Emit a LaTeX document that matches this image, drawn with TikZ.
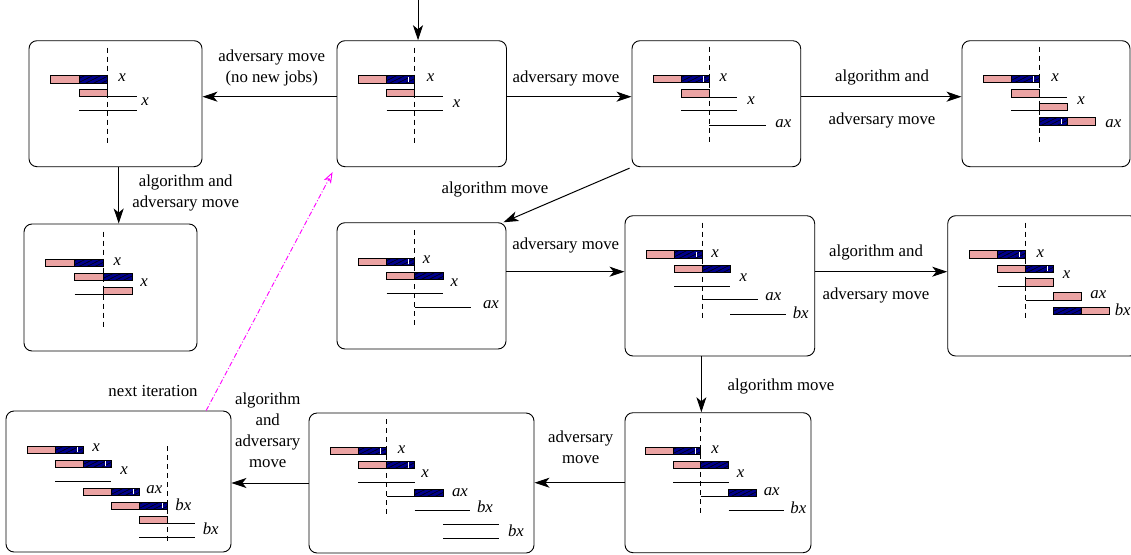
\documentclass[tikz,border=0pt]{standalone}
\usepackage{fontspec}
\setmainfont{Liberation Serif}
\usetikzlibrary{arrows.meta,patterns}
\definecolor{barpink}{RGB}{235,163,163}
\definecolor{barnavy}{RGB}{0,0,140}
\definecolor{itermag}{RGB}{255,0,255}
\pgfdeclarepatternformonly{bhatch}{\pgfqpoint{-1pt}{-1pt}}{\pgfqpoint{9pt}{5pt}}{\pgfqpoint{8pt}{4pt}}{%
  \pgfsetlinewidth{0.6pt}%
  \pgfpathmoveto{\pgfqpoint{-0.5pt}{-0.25pt}}%
  \pgfpathlineto{\pgfqpoint{8.5pt}{4.25pt}}%
  \pgfusepath{stroke}}
\newcounter{labc}
\newcommand\pkbar[3]{\filldraw[fill=barpink,draw=black,line width=0.8pt] (#1,#3) rectangle (#2,#3-7.3);}
\newcommand\nvbar[3]{\fill[barnavy] (#1,#3) rectangle (#2,#3-7.3);
  \fill[pattern=bhatch,pattern color=black] (#1,#3) rectangle (#2,#3-7.3);
  \draw[line width=0.8pt] (#1,#3) rectangle (#2,#3-7.3);}
\newcommand\wtick[2]{\draw[white,line width=0.9pt] (#1,#2-1) -- (#1,#2-6.3);}
\newcommand\hln[3]{\draw[line width=0.8pt] (#1,#3) -- (#2,#3);}
\newcommand\dln[3]{\draw[dline] (#1,#2) -- (#1,#3);}
\newcommand\lab[3]{\stepcounter{labc}\node[lab] (l\arabic{labc}) at (#1,#2) {\textit{#3}};}
\tikzset{
  stbox/.style={draw=black,line width=0.9pt,rounded corners=8pt,inner sep=0pt},
  dline/.style={line width=0.9pt,dash pattern=on 5pt off 4pt},
  lab/.style={inner sep=0pt,font=\fontsize{16.8}{21}\selectfont},
  tlab/.style={inner sep=0pt,align=center,font=\fontsize{16.8}{21}\selectfont},
  arr/.style={line width=1pt,-{Stealth[length=15pt,width=10pt,inset=4pt]}},
  iter/.style={itermag,line width=0.9pt,dash pattern=on 5pt off 2pt on 1pt off 2pt,
    -{Stealth[open,length=11pt,width=8pt,inset=3pt]}},
}
\begin{document}
\begin{tikzpicture}[x=1pt,y=-1pt]
\useasboundingbox (0,0) rectangle (1131,554);
% boxes
\node[stbox,minimum width=173pt,minimum height=126pt] (A) at (115.5,103.7) {};
\node[stbox,minimum width=169.5pt,minimum height=126pt] (B) at (421.75,103.7) {};
\node[stbox,minimum width=168.7pt,minimum height=126pt] (C) at (716.35,103.7) {};
\node[stbox,minimum width=168pt,minimum height=126pt] (D) at (1046,103.7) {};
\node[stbox,minimum width=173pt,minimum height=127pt] (E) at (110.5,287.5) {};
\node[stbox,minimum width=169pt,minimum height=126.3pt] (F) at (421.5,285.85) {};
\node[stbox,minimum width=189.7pt,minimum height=140.3pt] (G) at (719.85,285.85) {};
\node[stbox,minimum width=190pt,minimum height=140.3pt] (H) at (1042.7,285.85) {};
\node[stbox,minimum width=186pt,minimum height=140pt] (I) at (718,482.7) {};
\node[stbox,minimum width=225pt,minimum height=140pt] (J) at (421.5,483) {};
\node[stbox,minimum width=225pt,minimum height=141pt] (K) at (118.5,481.5) {};

% Box A
\dln{107.7}{47.7}{142.7}
\pkbar{50}{79}{83} \nvbar{79}{107.7}{83}
\lab{122}{77.7}{x}
\pkbar{79}{107.7}{96.7} \hln{107.7}{136.7}{96.7}
\lab{145}{101.7}{x}
\hln{79}{136.7}{110}
% Box B
\dln{414.7}{47.7}{142.7}
\pkbar{358.3}{386.7}{83} \nvbar{386.7}{414.7}{83} \wtick{408.3}{83}
\lab{430.7}{77.7}{x}
\pkbar{386.7}{414.7}{96.7} \hln{414.7}{442.7}{96.7}
\lab{456.7}{103.3}{x}
\hln{386.7}{442.7}{110}
% Box C
\dln{709.3}{46.7}{142.7}
\pkbar{653.3}{681}{82.7} \nvbar{681}{709.3}{82.7} \wtick{703.3}{82.7}
\lab{723.3}{77.3}{x}
\pkbar{681}{709.3}{97} \hln{709.3}{737.3}{97}
\lab{751}{101}{x}
\hln{681}{737.3}{110.3}
\hln{709.3}{765.7}{125}
\lab{783.3}{123.7}{ax}
% Box D
\dln{1039.3}{46.7}{142.7}
\pkbar{983.3}{1011}{82.7} \nvbar{1011}{1039.3}{82.7} \wtick{1033.3}{82.7}
\lab{1055}{77.3}{x}
\pkbar{1011}{1039.3}{97} \hln{1039.3}{1067.3}{97}
\lab{1081}{101}{x}
\hln{1011}{1039.3}{110.3} \pkbar{1039.3}{1067.3}{110.3}
\nvbar{1039.3}{1067.3}{125} \wtick{1061.7}{125} \pkbar{1067.3}{1095.7}{125}
\lab{1113.3}{123.7}{ax}
% Box E
\dln{103.7}{231.7}{326.7}
\pkbar{45.7}{74.7}{266.3} \nvbar{74.7}{103.7}{266.3}
\lab{117.3}{261.7}{x}
\pkbar{74.7}{103.7}{280.3} \nvbar{103.7}{132.7}{280.3}
\lab{144}{282.7}{x}
\hln{74.7}{103.7}{294.3} \pkbar{103.7}{132.7}{294.3}
% Box F
\dln{414.7}{230}{325.7}
\pkbar{358.3}{386.7}{265.3} \nvbar{386.7}{414.7}{265.3} \wtick{408.7}{265.3}
\lab{426.7}{260}{x}
\pkbar{386.7}{414.7}{279.3} \nvbar{414.7}{443}{279.3}
\lab{454.3}{282.7}{x}
\hln{386.7}{443}{293}
\hln{414.7}{470.7}{307.3}
\lab{491}{305}{ax}
% Box G
\dln{702.3}{222.7}{318.3}
\pkbar{646}{674.3}{258} \nvbar{674.3}{702.3}{258} \wtick{696.7}{258}
\lab{715}{253.3}{x}
\pkbar{674.3}{702.3}{272.3} \nvbar{702.3}{730.3}{272.3}
\lab{743.3}{277.7}{x}
\hln{674.3}{730.3}{286}
\hln{702.3}{758.3}{299.7}
\lab{773.3}{297}{ax}
\hln{730.3}{786}{314}
\lab{800.7}{312.3}{bx}
% Box H
\dln{1025.7}{222.7}{318.3}
\pkbar{969.3}{997.7}{258} \nvbar{997.7}{1025.7}{258} \wtick{1019.7}{258}
\lab{1040.3}{253.3}{x}
\pkbar{997.7}{1025.7}{272.3} \nvbar{1025.7}{1053.7}{272.3} \wtick{1047.7}{272.3}
\lab{1066.7}{275}{x}
\hln{997.7}{1025.7}{286} \pkbar{1025.7}{1053.7}{286}
\hln{1025.7}{1053.7}{300} \pkbar{1053.7}{1081.7}{300}
\lab{1098.3}{294.3}{ax}
\nvbar{1053.7}{1081.7}{314.3} \pkbar{1081.7}{1109.3}{314.3}
\lab{1122.7}{310}{bx}
% Box I
\dln{700.7}{418.3}{515}
\pkbar{645.7}{673.3}{454.7} \nvbar{673.3}{700.7}{454.7} \wtick{695}{454.7}
\lab{715}{450}{x}
\pkbar{673.3}{700.7}{468.7} \nvbar{700.7}{728.7}{468.7}
\lab{740.7}{474}{x}
\hln{673.3}{728.7}{482.3}
\hln{700.7}{728.7}{496.7} \nvbar{728.7}{756.7}{496.7}
\lab{771.7}{491.7}{ax}
\hln{728.7}{783.7}{510.7}
\lab{798.3}{507.3}{bx}
% Box J
\dln{386.7}{419.3}{515}
\pkbar{330.3}{358.3}{454.7} \nvbar{358.3}{386.7}{454.7} \wtick{380.7}{454.7}
\lab{401.7}{450}{x}
\pkbar{358.3}{386.7}{468.7} \nvbar{386.7}{414.7}{468.7} \wtick{408.7}{468.7}
\lab{425}{474}{x}
\hln{358.3}{414.7}{482.7}
\hln{386.7}{414.7}{496.7} \nvbar{414.7}{443}{496.7}
\lab{460}{492.7}{ax}
\hln{414.7}{470.3}{510.7}
\lab{485}{506.7}{bx}
\hln{443}{498.7}{524.3}
\hln{443}{498.7}{538.7}
\lab{516}{530.3}{bx}
% Box K
\dln{167.3}{446}{541.7}
\pkbar{27}{55.3}{453.3} \nvbar{55.3}{83.3}{453.3} \wtick{77.3}{453.3}
\lab{96}{447.3}{x}
\pkbar{55.3}{83}{467.3} \nvbar{83}{111.3}{467.3} \wtick{105.7}{467.3}
\lab{124}{470.7}{x}
\hln{55.3}{111.3}{481}
\pkbar{83.3}{111.3}{495.3} \nvbar{111.3}{139.7}{495.3} \wtick{133.7}{495.3}
\lab{154.3}{490}{ax}
\pkbar{111.3}{139.3}{509.3} \nvbar{139.3}{167.3}{509.3} \wtick{162}{509.3}
\lab{183.3}{504.7}{bx}
\pkbar{139.3}{167.3}{523.7} \hln{167.3}{195.3}{523.7}
\lab{210.7}{528.7}{bx}
\hln{139.3}{195.3}{537.3}

% connectors
\coordinate (start) at (418,0);
\draw[arr] (start) -- (start |- B.north);
\draw[arr] ([yshift=7pt]B.west) -- ([yshift=7pt]B.west -| A.east);
\draw[arr] ([yshift=7pt]B.east) -- ([yshift=7pt]B.east -| C.west);
\draw[arr] ([yshift=7pt]C.east) -- ([yshift=7pt]C.east -| D.west);
\draw[arr] ([xshift=3.2pt]A.south) -- ([xshift=3.2pt]A.south |- E.north);
\draw[arr] ([xshift=-2pt,yshift=-1pt]C.south west) -- ([xshift=-3pt]F.north east);
\draw[arr] ([yshift=14.15pt]F.east) -- ([yshift=14.15pt]F.east -| G.west);
\draw[arr] ([yshift=14.15pt]G.east) -- ([yshift=14.15pt]G.east -| H.west);
\draw[arr] ([xshift=-18.5pt]G.south) -- ([xshift=-18.5pt]G.south |- I.north);
\draw[arr] (I.west) -- (I.west -| J.east);
\draw[arr] (J.west) -- (J.west -| K.east);
\draw[iter] ([xshift=-25.3pt]K.north east) -- ([xshift=-4pt,yshift=-5pt]B.south west);

% connector labels
\node[tlab] (tBA) at (271.7,67.5) {adversary move\\(no new jobs)};
\node[tlab] (tBC) at (566,78) {adversary move};
\node[tlab] (tCD1) at (882,77.3) {algorithm and};
\node[tlab] (tCD2) at (882,120) {adversary move};
\node[tlab] (tAE) at (185.7,192.5) {algorithm and\\adversary move};
\node[tlab] (tCF) at (495,189) {algorithm move};
\node[tlab] (tFG) at (565.7,245.7) {adversary move};
\node[tlab] (tGH1) at (876,252.7) {algorithm and};
\node[tlab] (tGH2) at (876,295.7) {adversary move};
\node[tlab] (tGI) at (781,386.7) {algorithm move};
\node[tlab] (tIJ) at (580.7,447) {adversary\\move};
\node[tlab] (tJK) at (267.7,430.3) {algorithm\\and\\adversary\\move};
\node[tlab] (tnext) at (153,390.7) {next iteration};
\end{tikzpicture}
\end{document}
